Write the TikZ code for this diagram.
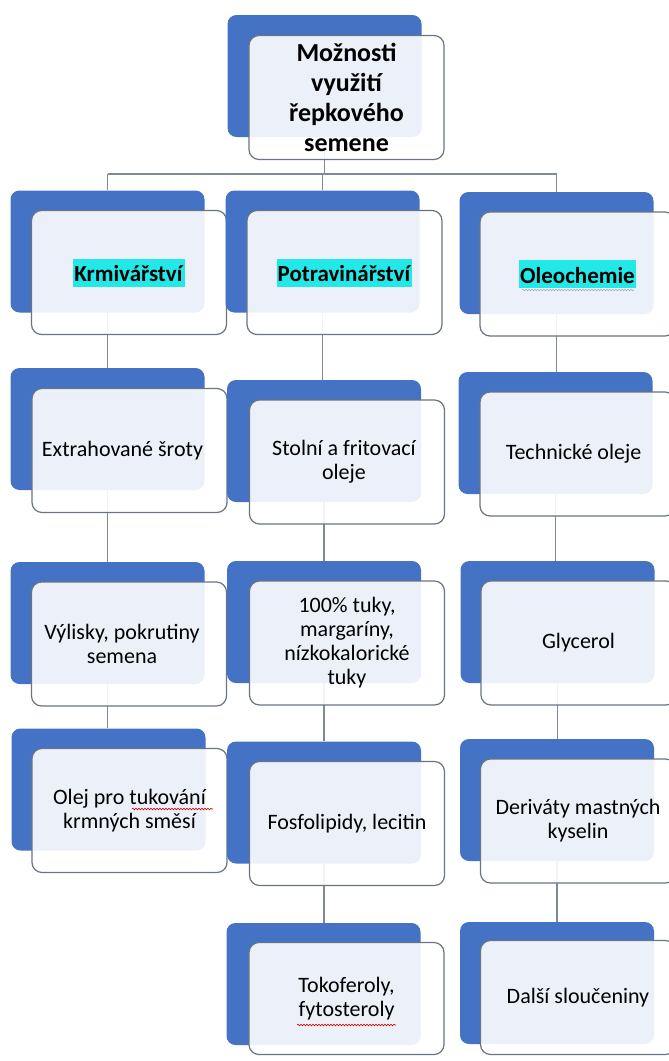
\documentclass[tikz,border=0pt]{standalone}
\usepackage{fontspec}
\setmainfont{Carlito}
\usetikzlibrary{positioning,decorations.pathmorphing}
\pgfdeclarelayer{bg}
\pgfsetlayers{bg,main}
\definecolor{smblue}{HTML}{4472C4}
\definecolor{smline}{HTML}{6A7482}
\definecolor{hlcyan}{HTML}{22E8E8}
\newcommand{\hlword}[1]{{\setlength{\fboxsep}{1pt}\colorbox{hlcyan}{\rule[-4pt]{0pt}{26pt}\textbf{#1}}}}

\begin{document}
\begin{tikzpicture}[x=1pt,y=-1pt,
	back/.style={rectangle, rounded corners=9pt, fill=smblue, minimum width=194pt, minimum height=122pt},
	front/.style={rectangle, rounded corners=10pt, draw=smline, line width=1.2pt, fill=white, fill opacity=0.9, text opacity=1, minimum width=195pt, minimum height=124pt, align=center, font=\fontsize{22}{24}\selectfont},
	head/.style={font=\fontsize{23}{25}\selectfont},
	conn/.style={draw=smline!85, line width=1.4pt},
	squiggle/.style={decorate, decoration={snake, amplitude=0.8pt, segment length=3pt}, line width=0.6pt}]
	
	\useasboundingbox (0,0) rectangle (669,1061);
	\clip (0,0) rectangle (669,1061);
	
	\node[back] (rootb) at (324.5,76) {};
	\node[front, font=\bfseries\fontsize{26}{30}\selectfont] (rootf) at ([xshift=22pt,yshift=-21.5pt]rootb.center) {Možnosti\\využití\\řepkového\\semene};
	
	\node[back] (kb1) at (107.5,251.5) {};
	\node[front,head] (kf1) at ([xshift=21.5pt,yshift=-21pt]kb1.center) {\hlword{Krmivářství}};
	\node[back] (pb1) at (322.5,251.5) {};
	\node[front,head] (pf1) at ([xshift=22pt,yshift=-21pt]pb1.center) {\hlword{Potravinářství}};
	\node[back] (ob1) at (556.5,253) {};
	\node[front,head] (of1) at ([xshift=21pt,yshift=-21pt]ob1.center) {\hlword{Oleochemie}};
	
	\node[back] (kb2) at (107.5,429) {};
	\node[front] (kf2) at ([xshift=22pt,yshift=-21.5pt]kb2.center) {Extrahované šroty\hspace*{14pt}};
	\node[back] (pb2) at (324,441) {};
	\node[front] (pf2) at ([xshift=23pt,yshift=-21pt]pb2.center) {Stolní a fritovací\hspace*{6pt}\\oleje\hspace*{6pt}};
	\node[back] (ob2) at (555.5,433) {};
	\node[front] (of2) at ([xshift=22pt,yshift=-21pt]ob2.center) {Technické oleje\hspace*{8pt}};
	
	\node[back] (kb3) at (107.5,623) {};
	\node[front] (kf3) at ([xshift=21.5pt,yshift=-21pt]kb3.center) {Výlisky, pokrutiny\hspace*{14pt}\\semena\hspace*{14pt}};
	\node[back] (pb3) at (324,622) {};
	\node[front] (pf3) at ([xshift=23pt,yshift=-21pt]pb3.center) {100\% tuky,\\margaríny,\\nízkokalorické\\tuky};
	\node[back] (ob3) at (557.5,622) {};
	\node[front] (of3) at ([xshift=21pt,yshift=-21pt]ob3.center) {Glycerol};
	
	\node[back] (kb4) at (108.5,789.5) {};
	\node[front] (kf4) at ([xshift=21pt,yshift=-21pt]kb4.center) {Olej pro tukování\\krmných směsí};
	\node[back] (pb4) at (324,802.5) {};
	\node[front] (pf4) at ([xshift=23pt,yshift=-21pt]pb4.center) {Fosfolipidy, lecitin};
	\node[back] (ob4) at (557,800) {};
	\node[front] (of4) at ([xshift=21pt,yshift=-21pt]ob4.center) {Deriváty mastných\\kyselin};
	
	\node[back] (pb5) at (323.5,984) {};
	\node[front, minimum height=112pt] (pf5) at ([xshift=23pt,yshift=-14.5pt]pb5.center) {Tokoferoly,\\fytosteroly};
	\node[back] (ob5) at (557,983) {};
	\node[front, minimum height=114pt] (of5) at ([xshift=21pt,yshift=-14.5pt]ob5.center) {Další sloučeniny};
	
	\begin{pgfonlayer}{bg}
		\fill[white] (0,0) rectangle (669,1061);
		\coordinate (bus) at (0,174);
		\draw[conn] (rootb.center) -- (rootb.center |- bus);
		\draw[conn] (kb1.center |- bus) -- (ob1.center |- bus);
		\draw[conn] (kb1.center |- bus) -- (kb1.north);
		\draw[conn] (pb1.center |- bus) -- (pb1.north);
		\draw[conn] (ob1.center |- bus) -- (ob1.north);
		
		\draw[conn] (kb1.center) -- (kb1.center |- kb2.north);
		\draw[conn] (kb2.center) -- (kb2.center |- kb3.north);
		\draw[conn] (kb3.center) -- (kb3.center |- kb4.north);
		\draw[conn] (pb1.center) -- (pb1.center |- pb2.north);
		\draw[conn] (pb2.center) -- (pb2.center |- pb3.north);
		\draw[conn] (pb3.center) -- (pb3.center |- pb4.north);
		\draw[conn] (pb4.center) -- (pb4.center |- pb5.north);
		\draw[conn] (ob1.center) -- (ob1.center |- ob2.north);
		\draw[conn] (ob2.center) -- (ob2.center |- ob3.north);
		\draw[conn] (ob3.center) -- (ob3.center |- ob4.north);
		\draw[conn] (ob4.center) -- (ob4.center |- ob5.north);
	\end{pgfonlayer}
	
	\draw[squiggle, smline!60] (522,290) -- (634,290);
	\draw[squiggle, red!80!black] (132,809) -- (213,809);
	\draw[squiggle, red!80!black] (297,1025) -- (396,1025);
\end{tikzpicture}
\end{document}
